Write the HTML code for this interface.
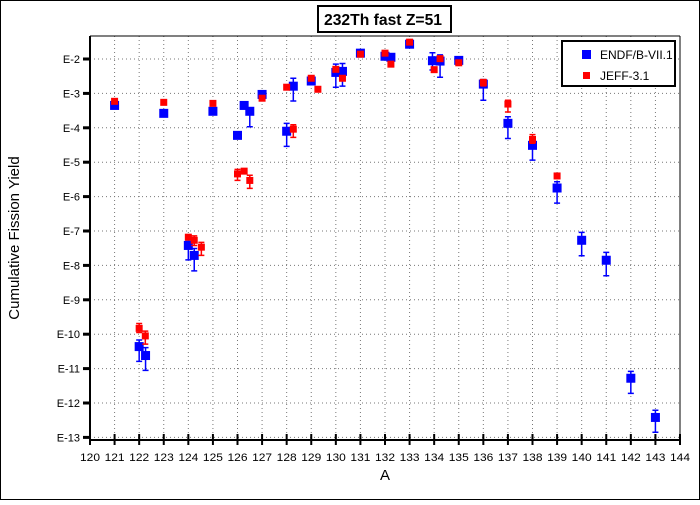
<!DOCTYPE html>
<html><head><meta charset="utf-8"><style>
body{margin:0;background:#fff;}
svg text{font-family:"Liberation Sans",sans-serif;}
</style></head><body>
<svg id="chart" width="700" height="500" xmlns="http://www.w3.org/2000/svg">
<rect x="0.5" y="0.5" width="699" height="499" fill="#fff" stroke="#000"/>
<g id="grid"></g>
<g id="axes"></g>
<g id="marks"></g>
<rect x="318" y="6" width="133" height="26" fill="#fff" stroke="#000" stroke-width="2"/>
<text x="383" y="25" text-anchor="middle" font-size="16" font-weight="bold" textLength="118" lengthAdjust="spacingAndGlyphs">232Th fast Z=51</text>
<g>
<rect x="562" y="41" width="113" height="45" fill="#fff" stroke="#000" stroke-width="2"/>
<rect x="582" y="50" width="9" height="9" fill="#0000ff"/>
<text x="600" y="59" font-size="12">ENDF/B-VII.1</text>
<rect x="583" y="72" width="7" height="7" fill="#ff0000"/>
<text x="600" y="80" font-size="12">JEFF-3.1</text>
</g>
<text x="385" y="480" text-anchor="middle" font-size="15">A</text>
<text transform="translate(19,238) rotate(-90)" text-anchor="middle" font-size="15">Cumulative Fission Yield</text>
</svg>
<script>
const xTicks=[120,121,122,123,124,125,126,127,128,129,130,131,132,133,134,135,136,137,138,139,140,141,142,143,144];
const yTicks=[-2,-3,-4,-5,-6,-7,-8,-9,-10,-11,-12,-13];
const endfA=[121,122,122.26,123,124,124.24,125,126,126.27,126.5,127,128,128.27,129,130,130.27,131,132,132.24,133,133.93,134.24,135,136,137,138,139,140,141,142,143];
const endfLog=[-3.35,-10.36,-10.62,-3.58,-7.42,-7.71,-3.52,-4.22,-3.35,-3.52,-3.03,-4.10,-2.79,-2.64,-2.39,-2.36,-1.83,-1.92,-1.95,-1.57,-2.05,-2.06,-2.04,-2.73,-3.87,-4.51,-5.75,-7.27,-7.85,-11.28,-12.42];
const endfErrHi=[null,-10.17,-10.39,null,-7.3,-7.51,null,null,null,-3.42,null,-3.87,-2.56,null,-2.15,-2.13,null,null,null,null,-1.82,-1.88,null,-2.6,-3.68,-4.35,-5.57,-7.04,-7.62,-11.08,-12.21];
const endfErrLo=[null,-10.79,-11.05,null,-7.84,-8.16,null,null,null,-3.97,null,-4.54,-3.22,null,-2.82,-2.79,null,null,null,null,-2.32,-2.53,null,-3.20,-4.31,-4.94,-6.19,-7.72,-8.30,-11.72,-12.85];
const jeffA=[121,122,122.25,123,124,124.24,124.53,125,126,126.27,126.5,127,128,128.27,129,129.27,130,130.27,131,132,132.24,133,134,134.24,135,136,137,138,139];
const jeffLog=[-3.23,-9.83,-10.05,-3.26,-7.18,-7.27,-7.47,-3.29,-5.34,-5.26,-5.53,-3.14,-2.82,-4.04,-2.56,-2.88,-2.30,-2.56,-1.86,-1.83,-2.15,-1.51,-2.31,-1.99,-2.11,-2.68,-3.31,-4.34,-5.40];
const jeffErrHi=[null,-9.69,-9.91,null,null,-7.14,-7.33,null,-5.21,null,-5.38,null,null,-3.91,null,null,null,null,null,null,null,null,null,null,-2.05,-2.6,-3.2,-4.2,-5.35];
const jeffErrLo=[null,-9.95,-10.29,null,null,-7.42,-7.71,null,-5.53,null,-5.76,null,null,-4.28,null,null,null,null,null,null,null,null,null,null,-2.17,-2.78,-3.54,-4.45,-5.45];

const NS='http://www.w3.org/2000/svg';
const L=90,R=680,T=36,B=440;
function xs(a){return L+(a-120)/(144-120)*(R-L);}
function ys(v){return 59+(-2-v)*34.4;}
function mk(tag,attrs,parent){const e=document.createElementNS(NS,tag);for(const k in attrs)e.setAttribute(k,attrs[k]);parent.appendChild(e);return e;}
const grid=document.getElementById('grid'),axes=document.getElementById('axes'),marks=document.getElementById('marks');
xTicks.forEach(t=>{
  if(t>120&&t<144){const g=mk('line',{x1:xs(t),x2:xs(t),y1:T,y2:B,stroke:'#777','stroke-dasharray':'1,3'},grid);
  
  }
  const tk=mk('line',{x1:xs(t),x2:xs(t),y1:434,y2:445,stroke:'#000','stroke-width':2},axes);
  
  
  const lb=mk('text',{x:xs(t),y:461,'text-anchor':'middle','font-size':11,'textLength':20,'lengthAdjust':'spacingAndGlyphs'},axes);
  
  
  lb.textContent=t;
});
yTicks.forEach(t=>{
  const g=mk('line',{x1:L,x2:R,y1:ys(t),y2:ys(t),stroke:'#777','stroke-dasharray':'1,3'},grid);
  
  
  const tk=mk('line',{x1:L-7,x2:L,y1:ys(t),y2:ys(t),stroke:'#000','stroke-width':3},axes);
  
  
  const lb=mk('text',{x:80,y:ys(t)+4,'text-anchor':'end','font-size':11},axes);
  
  
  lb.textContent='E'+t;
});
const ax1=mk('line',{x1:L,x2:L,y1:T,y2:B,stroke:'#000','stroke-width':2},axes);


const ax2=mk('line',{x1:L,x2:R,y1:B,y2:B,stroke:'#000','stroke-width':2},axes);


const ax3=mk('line',{x1:R,x2:R,y1:T,y2:B,stroke:'#000','stroke-width':1},axes);


const ax4=mk('line',{x1:L,x2:R,y1:T,y2:T,stroke:'#000','stroke-width':1},axes);


function series(A,V,H,Lo,color,size,name){
  A.forEach((a,i)=>{
    const x=xs(a),y=ys(V[i]);
    if(H[i]!==null){
      const y1=ys(H[i]),y2=ys(Lo[i]);
      const e=mk('path',{d:`M${x},${y1}V${y2}M${x-3},${y1}H${x+3}M${x-3},${y2}H${x+3}`,stroke:color,'stroke-width':1.5,fill:'none'},marks);
      
      
    }
    const r=mk('rect',{x:x-size/2,y:y-size/2,width:size,height:size,fill:color},marks);
    
    
  });
}
series(endfA,endfLog,endfErrHi,endfErrLo,'#0000ff',9,'endf');
series(jeffA,jeffLog,jeffErrHi,jeffErrLo,'#ff0000',7,'jeff');
</script>
</body></html>
